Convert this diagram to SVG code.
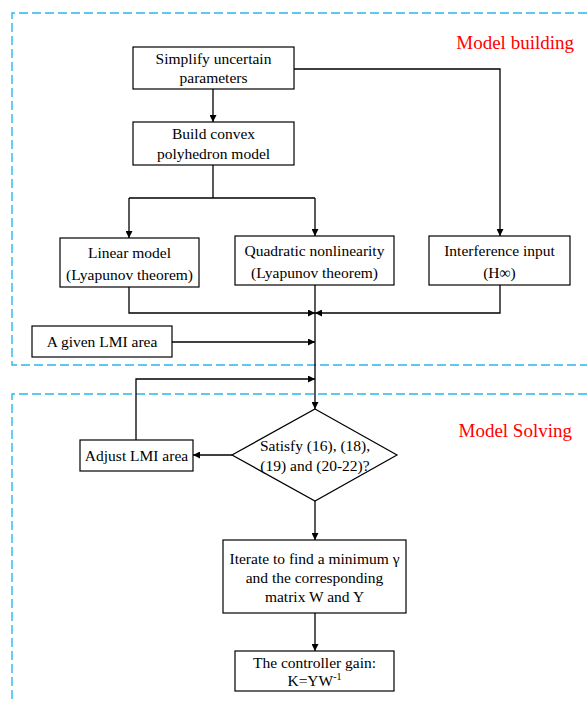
<svg xmlns="http://www.w3.org/2000/svg" width="587" height="701" viewBox="0 0 587 701">
<defs>
<marker id="ah" viewBox="0 0 10 10" refX="10" refY="5" markerWidth="8" markerHeight="7" markerUnits="userSpaceOnUse" orient="auto">
<path d="M0,0 L10,5 L0,10 Z" fill="#000"/>
</marker>
</defs>
<style>
.zone{fill:none;stroke:#29b8ee;stroke-width:1.4;stroke-dasharray:9 4}
.box{fill:#fff;stroke:#000;stroke-width:1.2}
.t{font-family:"Liberation Serif","Times New Roman",serif;font-size:15.5px;fill:#000;text-anchor:middle}
.lbl{font-family:"Liberation Serif","Times New Roman",serif;font-size:19px;fill:#ff0000}
.c{fill:none;stroke:#000;stroke-width:1.3}
.a{marker-end:url(#ah)}
</style>
<rect width="587" height="701" fill="#fff"/>
<g id="zones">
<path class="zone" d="M587,13 H12 V365 H587"/>
<path class="zone" d="M587,394 H12 V701"/>
<text class="lbl" x="574" y="49" text-anchor="end">Model building</text>
<text class="lbl" x="572" y="437" text-anchor="end">Model Solving</text>
</g>
<g id="connectors">
<path class="c a" d="M213,89 V122"/>
<path class="c a" d="M294,69 H500 V236"/>
<path class="c" d="M213,165 V198 M129,198 H315"/>
<path class="c a" d="M129,198 V238"/>
<path class="c a" d="M315,198 V236"/>
<path class="c a" d="M129,287 V313 H315"/>
<path class="c a" d="M500,285 V313 H315"/>
<path class="c a" d="M315,285 V409"/>
<path class="c a" d="M172,342 H315"/>
<path class="c a" d="M136,440 V379 H315"/>
<path class="c a" d="M232,455 H193"/>
<path class="c a" d="M315,501 V540"/>
<path class="c a" d="M315,613 V651"/>
</g>
<g id="simplify">
<rect class="box" x="133" y="47" width="161" height="42"/>
<text class="t" x="213.5" y="64">Simplify uncertain</text>
<text class="t" x="213.5" y="83">parameters</text>
</g>
<g id="convex">
<rect class="box" x="133" y="122" width="161" height="43"/>
<text class="t" x="213.5" y="139">Build convex</text>
<text class="t" x="213.5" y="159">polyhedron model</text>
</g>
<g id="linear">
<rect class="box" x="60" y="238" width="139" height="49"/>
<text class="t" x="129.5" y="258">Linear model</text>
<text class="t" x="129.5" y="280">(Lyapunov theorem)</text>
</g>
<g id="quadratic">
<rect class="box" x="235" y="236" width="159" height="49"/>
<text class="t" x="314.5" y="256">Quadratic nonlinearity</text>
<text class="t" x="314.5" y="278">(Lyapunov theorem)</text>
</g>
<g id="interference">
<rect class="box" x="429" y="236" width="141" height="49"/>
<text class="t" x="499.5" y="256">Interference input</text>
<text class="t" x="499.5" y="278">(H∞)</text>
</g>
<g id="given">
<rect class="box" x="32" y="326" width="140" height="31"/>
<text class="t" x="102" y="347">A given LMI area</text>
</g>
<g id="decision">
<path class="box" d="M315,409 L397,455 L315,501 L232,455 Z"/>
<text class="t" x="315" y="451">Satisfy (16), (18),</text>
<text class="t" x="315" y="471">(19) and (20-22)?</text>
</g>
<g id="adjust">
<rect class="box" x="80" y="440" width="113" height="31"/>
<text class="t" x="136.5" y="461">Adjust LMI area</text>
</g>
<g id="iterate">
<rect class="box" x="223" y="540" width="183" height="73"/>
<text class="t" x="314.5" y="564">Iterate to find a minimum γ</text>
<text class="t" x="314.5" y="583">and the corresponding</text>
<text class="t" x="314.5" y="602">matrix W and Y</text>
</g>
<g id="gain">
<rect class="box" x="235" y="651" width="159" height="40"/>
<text class="t" x="314.5" y="668">The controller gain:</text>
<text class="t" x="314.5" y="686">K=YW<tspan font-size="10" dy="-6">-1</tspan></text>
</g>
</svg>
